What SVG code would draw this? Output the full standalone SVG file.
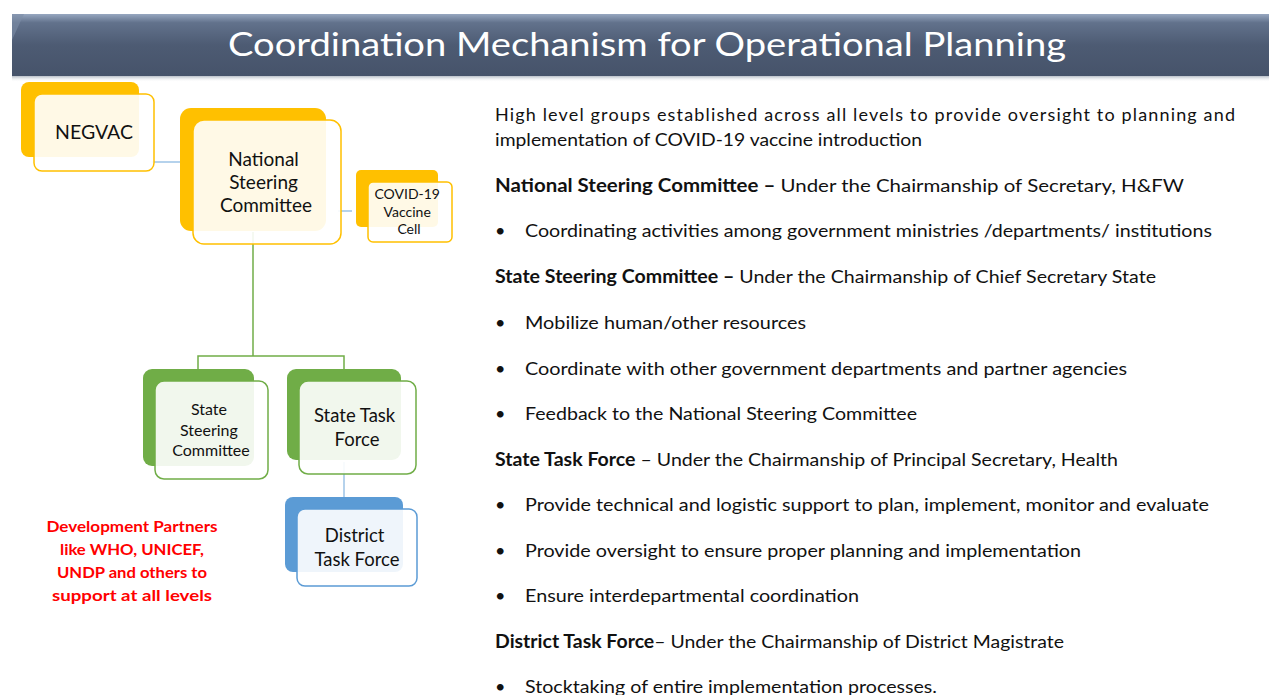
<svg xmlns="http://www.w3.org/2000/svg" width="1269" height="695" viewBox="0 0 1269 695">
  <defs>
    <linearGradient id="barGrad" x1="0" y1="0" x2="0" y2="1">
      <stop offset="0" stop-color="#97a7c0"/>
      <stop offset="0.14" stop-color="#62728c"/>
      <stop offset="0.5" stop-color="#4d5b73"/>
      <stop offset="1" stop-color="#46536a"/>
    </linearGradient>
    <linearGradient id="shadowGrad" x1="0" y1="0" x2="0" y2="1">
      <stop offset="0" stop-color="#9aa3b0" stop-opacity="0.7"/>
      <stop offset="1" stop-color="#ffffff" stop-opacity="0"/>
    </linearGradient>
    <style>
      .title { font-family: Lato, "Liberation Sans", sans-serif; font-size: 33px; fill: #ffffff; }
      .node-text { font-family: Lato, "Liberation Sans", sans-serif; fill: #111111; text-anchor: middle; }
      .body { font-family: Lato, "Liberation Sans", sans-serif; font-size: 18px; fill: #111111; }
      .b { font-weight: bold; }
      .red { font-family: Lato, "Liberation Sans", sans-serif; font-size: 16px; font-weight: bold; fill: #ff0000; text-anchor: middle; }
      .front { fill: #ffffff; fill-opacity: 0.9; stroke-width: 1.5; }
      .y-back { fill: #ffc000; }
      .y-front { stroke: #ffc000; }
      .g-back { fill: #70ad47; }
      .g-front { stroke: #70ad47; }
      .b-back { fill: #5b9bd5; }
      .b-front { stroke: #5b9bd5; }
      .link { fill: none; stroke-width: 1.5; }
    </style>
  </defs>

  <!-- title bar -->
  <g id="title-bar">
    <rect x="12" y="76" width="1257" height="6" fill="url(#shadowGrad)"/>
    <rect x="12" y="14" width="1257" height="62" fill="url(#barGrad)"/>
    <polygon points="12,14 24,14 12,40" fill="#7d8da6" opacity="0.6"/>
    <text class="title" x="647" y="56" text-anchor="middle" textLength="838" lengthAdjust="spacingAndGlyphs">Coordination Mechanism for Operational Planning</text>
  </g>

  <!-- connectors -->
  <g id="connectors">
    <line class="link" x1="152" y1="162" x2="182" y2="162" stroke="#9dc3e6"/>
    <line class="link" x1="338" y1="211" x2="352" y2="211" stroke="#9dc3e6"/>
    <polyline class="link" points="253,232 253,356" stroke="#70ad47"/>
    <polyline class="link" points="198,372 198,356 344,356 344,372" stroke="#70ad47"/>
    <line class="link" x1="344" y1="462" x2="344" y2="498" stroke="#9dc3e6"/>
  </g>

  <!-- nodes -->
  <g id="node-negvac">
    <rect class="y-back" x="21" y="82" width="118" height="75" rx="8"/>
    <rect class="front y-front" x="34" y="94" width="120" height="77" rx="8"/>
    <text class="node-text" x="94" y="139" font-size="19.5">NEGVAC</text>
  </g>

  <g id="node-national-steering">
    <rect class="y-back" x="180" y="108" width="146" height="123" rx="11"/>
    <rect class="front y-front" x="193" y="120" width="148" height="124" rx="11"/>
    <text class="node-text" font-size="19">
      <tspan x="266" y="166">National</tspan>
      <tspan x="266" y="189">Steering</tspan>
      <tspan x="266" y="212">Committee</tspan>
    </text>
  </g>

  <g id="node-vaccine-cell">
    <rect class="y-back" x="356" y="170" width="82" height="57" rx="5"/>
    <rect class="front y-front" x="368" y="182" width="84" height="60" rx="5"/>
    <text class="node-text" font-size="14">
      <tspan x="409" y="199">COVID-19</tspan>
      <tspan x="409" y="217">Vaccine</tspan>
      <tspan x="409" y="234">Cell</tspan>
    </text>
  </g>

  <g id="node-state-steering">
    <rect class="g-back" x="143" y="369" width="111" height="97" rx="9"/>
    <rect class="front g-front" x="155" y="381" width="113" height="98" rx="9"/>
    <text class="node-text" font-size="16">
      <tspan x="211" y="415">State</tspan>
      <tspan x="211" y="436">Steering</tspan>
      <tspan x="211" y="456">Committee</tspan>
    </text>
  </g>

  <g id="node-state-task-force">
    <rect class="g-back" x="287" y="369" width="114" height="91" rx="9"/>
    <rect class="front g-front" x="299" y="381" width="117" height="93" rx="9"/>
    <text class="node-text" font-size="18.5">
      <tspan x="357" y="422">State Task</tspan>
      <tspan x="357" y="446">Force</tspan>
    </text>
  </g>

  <g id="node-district-task-force">
    <rect class="b-back" x="285" y="497" width="118" height="75" rx="8"/>
    <rect class="front b-front" x="297" y="509" width="120" height="77" rx="8"/>
    <text class="node-text" font-size="18.5">
      <tspan x="357" y="542">District</tspan>
      <tspan x="357" y="566">Task Force</tspan>
    </text>
  </g>

  <!-- partner note -->
  <g id="partners-note" class="red">
    <text x="132" y="532" textLength="171" lengthAdjust="spacingAndGlyphs">Development Partners</text>
    <text x="132" y="555" textLength="144" lengthAdjust="spacingAndGlyphs">like WHO, UNICEF,</text>
    <text x="132" y="578" textLength="150" lengthAdjust="spacingAndGlyphs">UNDP and others to</text>
    <text x="132" y="601" textLength="160" lengthAdjust="spacingAndGlyphs">support at all levels</text>
  </g>

  <!-- description text -->
  <g id="description" class="body">
    <text x="495" y="121" textLength="740" lengthAdjust="spacing">High level groups established across all levels to provide oversight to planning and</text>
    <text x="495" y="146" textLength="427" lengthAdjust="spacingAndGlyphs">implementation of COVID-19 vaccine introduction</text>

    <text x="495" y="192" textLength="689" lengthAdjust="spacingAndGlyphs"><tspan class="b">National Steering Committee –</tspan> Under the Chairmanship of Secretary, H&amp;FW</text>
    <text x="495" y="237">•</text>
    <text x="525" y="237" textLength="687" lengthAdjust="spacingAndGlyphs">Coordinating activities among government ministries /departments/ institutions</text>

    <text x="495" y="283" textLength="661" lengthAdjust="spacingAndGlyphs"><tspan class="b">State Steering Committee –</tspan> Under the Chairmanship of Chief Secretary State</text>
    <text x="495" y="329">•</text>
    <text x="525" y="329" textLength="281" lengthAdjust="spacingAndGlyphs">Mobilize human/other resources</text>
    <text x="495" y="375">•</text>
    <text x="525" y="375" textLength="602" lengthAdjust="spacingAndGlyphs">Coordinate with other government departments and partner agencies</text>
    <text x="495" y="420">•</text>
    <text x="525" y="420" textLength="392" lengthAdjust="spacingAndGlyphs">Feedback to the National Steering Committee</text>

    <text x="495" y="466" textLength="623" lengthAdjust="spacingAndGlyphs"><tspan class="b">State Task Force</tspan> – Under the Chairmanship of Principal Secretary, Health</text>
    <text x="495" y="511">•</text>
    <text x="525" y="511" textLength="684" lengthAdjust="spacingAndGlyphs">Provide technical and logistic support to plan, implement, monitor and evaluate</text>
    <text x="495" y="557">•</text>
    <text x="525" y="557" textLength="556" lengthAdjust="spacingAndGlyphs">Provide oversight to ensure proper planning and implementation</text>
    <text x="495" y="602">•</text>
    <text x="525" y="602" textLength="334" lengthAdjust="spacingAndGlyphs">Ensure interdepartmental coordination</text>

    <text x="495" y="648" textLength="569" lengthAdjust="spacingAndGlyphs"><tspan class="b">District Task Force</tspan>– Under the Chairmanship of District Magistrate</text>
    <text x="495" y="693">•</text>
    <text x="525" y="693" textLength="412" lengthAdjust="spacingAndGlyphs">Stocktaking of entire implementation processes.</text>
  </g>
</svg>
